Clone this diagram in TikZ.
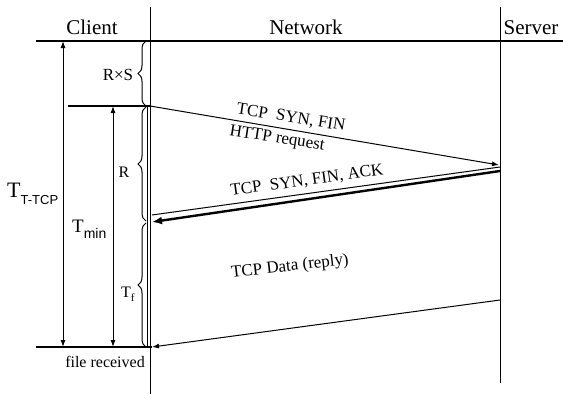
\documentclass[tikz,border=0pt]{standalone}
\usepackage{fontspec}
\setmainfont{Liberation Serif}
\newfontfamily\subsf{Liberation Sans}
\usetikzlibrary{arrows.meta,decorations.pathreplacing}

\begin{document}
\begin{tikzpicture}[x=1pt,y=-1pt,
  thinln/.style={line width=1pt},
  midln/.style={line width=1.3pt},
  tip/.style={-{Latex[length=7pt,width=5pt]}},
  bothtip/.style={{Latex[length=7pt,width=5pt]}-{Latex[length=7pt,width=5pt]}},
  hdr/.style={font=\fontsize{21}{24}\selectfont, anchor=base, inner sep=0pt},
  lbl/.style={font=\fontsize{17}{20}\selectfont, inner sep=0pt},
  brc/.style={decorate, decoration={brace, amplitude=8pt}, line width=1pt},
]
\useasboundingbox (0,0) rectangle (563,394);

% lifelines and header rule
\coordinate (ctop) at (150,7);   \coordinate (cbot) at (150,394);
\coordinate (stop) at (500,7);   \coordinate (sbot) at (500,383);
\coordinate (hl) at (36,41);     \coordinate (hr) at (563,41);
\coordinate (cbusyA) at (147,106); \coordinate (cbusyB) at (147,347);

% event points on the client
\coordinate (c0) at (150,41);
\coordinate (c1) at (150,106);
\coordinate (c2) at (152,222);
\coordinate (c2u) at (152,215);
\coordinate (c3) at (152,347);
% event points on the server
\coordinate (s1) at (499,165);
\coordinate (s2u) at (500,167);
\coordinate (s2) at (500,171);
\coordinate (s3) at (500,300);

% reference marks left of the client
\coordinate (reqL) at (68,106);
\coordinate (recL) at (36,347);
\coordinate (tt1) at (63,41);  \coordinate (tt2) at (63,347);
\coordinate (tm1) at (113,106); \coordinate (tm2) at (113,347);

\draw[thinln] (ctop) -- (cbot);
\draw[thinln] (cbusyA) -- (cbusyB);
\draw[thinln] (stop) -- (sbot);
\draw[line width=1.5pt] (hl) -- (hr);
\draw[midln] (reqL) -- (c1);
\draw[midln] (recL) -- (c3);

% headers
\node[hdr] (client) at (92,34) {Client};
\node[hdr] (network) at (306,34) {Network};
\node[hdr] (server) at (531,34) {Server};

% time spans
\draw[thinln, bothtip] (tt1) -- (tt2);
\draw[thinln, bothtip] (tm1) -- (tm2);

\node[anchor=base west, inner sep=0pt] (ttcp) at (7,197)
  {\fontsize{22}{24}\selectfont T\raisebox{-7pt}{\subsf\fontsize{13}{14}\selectfont T-TCP}};
\node[anchor=base west, inner sep=0pt] (tmin) at (72,232)
  {\fontsize{19}{22}\selectfont T\raisebox{-6pt}{\subsf\fontsize{14}{16}\selectfont min}};

% braces along the client line
\draw[brc] (146,106) -- (146,41);
\draw[brc] (146,221) -- (146,107);
\draw[brc] (146,347) -- (146,223);
\node[lbl] (rxs) at (118,75) {R×S};
\node[lbl, font=\fontsize{16}{18}\selectfont] (rlab) at (124,172) {R};
\node[anchor=base west, inner sep=0pt] (tf) at (121,297)
  {\fontsize{16}{18}\selectfont T\raisebox{-4pt}{\fontsize{11}{12}\selectfont f}};

\node[lbl, font=\fontsize{16}{18}\selectfont] (filerec) at (105,362) {file received};

% messages
\draw[thinln, tip] (c1) -- (s1);
\node[lbl, rotate=-9] (synlab) at (291,118) {TCP\ \ SYN, FIN};
\node[lbl, rotate=-9] (httplab) at (277,139) {HTTP request};

\draw[thinln] (s2u) -- (c2u);
\draw[line width=2.4pt, -{Latex[length=10pt,width=8pt]}] (s2) -- (c2);
\node[lbl, rotate=8] (acklab) at (307,181) {TCP\ \ SYN, FIN, ACK};

\draw[thinln, tip] (s3) -- (c3);
\node[lbl, rotate=6.5] (datalab) at (290,267) {TCP Data (reply)};
\end{tikzpicture}
\end{document}
